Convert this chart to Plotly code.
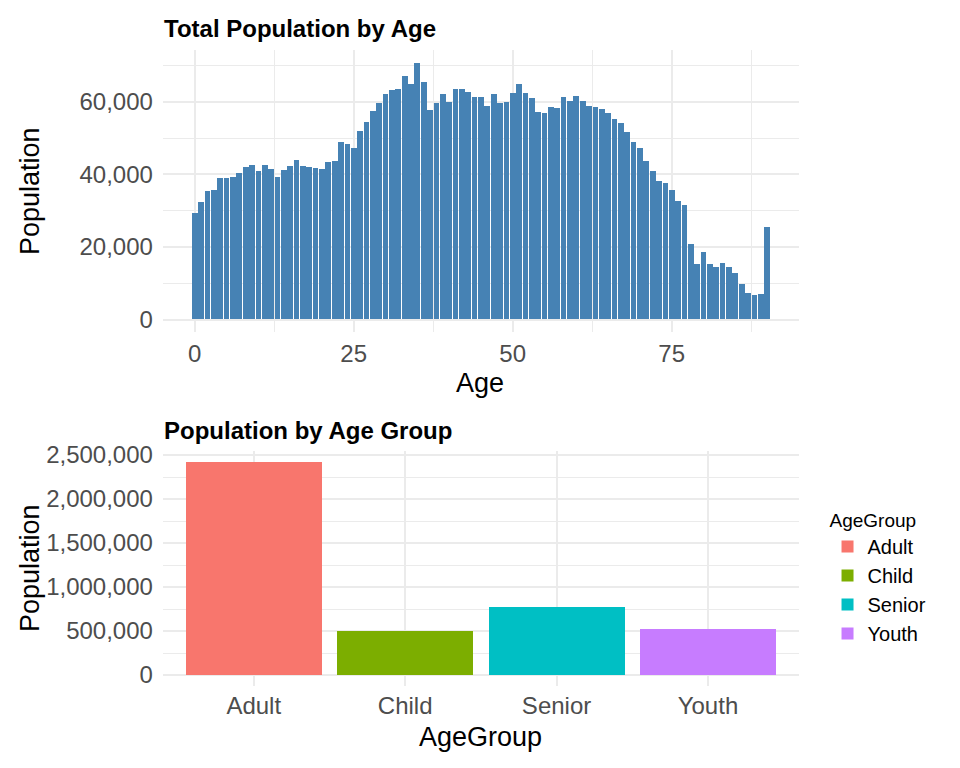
import plotly.graph_objects as go

# ---- data ----
ages = list(range(0, 91))
population = [
    29400, 32200, 35300, 35500, 38900, 38900, 39100, 40200, 41900, 42500,
    40800, 42500, 41400, 39100, 41100, 42200, 43800, 42200, 41900, 41600,
    41400, 43300, 43600, 48800, 48300, 47200, 51900, 54400, 57400, 59600,
    62100, 63200, 63500, 67100, 64900, 70700, 65400, 57700, 59600, 62100,
    59900, 63500, 63500, 62700, 61300, 61300, 58800, 62100, 59600, 59900,
    62400, 64900, 62400, 61000, 57100, 56900, 58500, 58200, 61300, 60200,
    61600, 60200, 58800, 58500, 58000, 56900, 55200, 54100, 51600, 48800,
    47200, 43600, 40800, 38000, 37500, 35500, 32500, 31400, 20600, 15300,
    18400, 15100, 14500, 15600, 14500, 12800, 9800, 7300, 6700, 7000,
    25300,
]

groups = ["Adult", "Child", "Senior", "Youth"]
group_population = [2420000, 500000, 763000, 523000]
group_colors = ["#F8766D", "#7CAE00", "#00BFC4", "#C77CFF"]

age_ticks = [0, 25, 50, 75]
age_minor = [12.5, 37.5, 62.5, 87.5]
pop_ticks = [0, 20000, 40000, 60000]
pop_minor = [10000, 30000, 50000, 70000]
group_ticks = [0, 500000, 1000000, 1500000, 2000000, 2500000]
group_minor = [250000, 750000, 1250000, 1750000, 2250000]

FONT = "Liberation Sans, Arial, sans-serif"
GRID = "#EBEBEB"
TICK = "#4D4D4D"

fig = go.Figure()

fig.add_trace(go.Bar(x=ages, y=population, width=0.9,
                     marker=dict(color="#4682B4", line=dict(width=0)),
                     showlegend=False, xaxis="x", yaxis="y",
                     hovertemplate="Age %{x}: %{y:,}<extra></extra>"))

for g, v, c in zip(groups, group_population, group_colors):
    fig.add_trace(go.Bar(x=[g], y=[v], name=g, width=0.9,
                         marker=dict(color=c, line=dict(width=0)),
                         xaxis="x2", yaxis="y2"))

top_max = max(population)
bot_max = max(group_population)

axis_common = dict(showgrid=True, gridcolor=GRID, gridwidth=1.6, zeroline=False,
                   showline=False, ticks="", automargin=False,
                   tickfont=dict(size=24, color=TICK, family=FONT))

fig.update_layout(
    width=960, height=768,
    autosize=False,
    margin=dict(l=0, r=0, t=0, b=0, pad=0, autoexpand=False),
    paper_bgcolor="white", plot_bgcolor="white",
    font=dict(family=FONT, color="black"),
    barmode="overlay",
    bargap=0,
    xaxis=dict(axis_common, domain=[0.1697, 0.8321], anchor="y",
               range=[-4.995, 94.995], tickvals=age_ticks, ticklabelstandoff=5,
               minor=dict(tickvals=age_minor, showgrid=True, gridcolor=GRID, gridwidth=0.8)),
    yaxis=dict(axis_common, domain=[0.5673, 0.9344], anchor="x",
               range=[-0.05 * top_max, 1.05 * top_max], tickvals=pop_ticks,
               tickformat=",", ticklabelstandoff=9,
               minor=dict(tickvals=pop_minor, showgrid=True, gridcolor=GRID, gridwidth=0.8)),
    xaxis2=dict(axis_common, domain=[0.1697, 0.8321], anchor="y2", type="category",
                range=[-0.6, 3.6], ticklabelstandoff=3),
    yaxis2=dict(axis_common, domain=[0.1072, 0.4122], anchor="x2",
                range=[-0.05 * bot_max, 1.05 * bot_max], tickvals=group_ticks,
                tickformat=",", ticklabelstandoff=9,
                minor=dict(tickvals=group_minor, showgrid=True, gridcolor=GRID, gridwidth=0.8)),
    legend=dict(x=0.862, y=0.346, xanchor="left", yanchor="top",
                title=dict(text="AgeGroup", font=dict(size=19, family=FONT)),
                font=dict(size=20, family=FONT, color="black"),
                bgcolor="rgba(0,0,0,0)", tracegroupgap=0),
)


def px(x, y):
    return x / 960, 1 - y / 768


annots = [
    ("<b>Total Population by Age</b>", 162, 28, 0, 24, "left"),
    ("<b>Population by Age Group</b>", 162, 430, 0, 24, "left"),
    ("Age", 480, 383, 0, 27, "center"),
    ("AgeGroup", 480, 737, 0, 27, "center"),
    ("Population", 30, 191, -90, 27, "center"),
    ("Population", 30, 568, -90, 27, "center"),
]
for text, x, y, ang, size, anchor in annots:
    ax, ay = px(x, y)
    fig.add_annotation(text=text, x=ax, y=ay, xref="paper", yref="paper",
                       xanchor=anchor, yanchor="middle", textangle=ang,
                       showarrow=False, font=dict(size=size, family=FONT, color="black"))

fig.write_html("out.html", config={"displayModeBar": False},
               post_script="document.body.style.margin='0';")
